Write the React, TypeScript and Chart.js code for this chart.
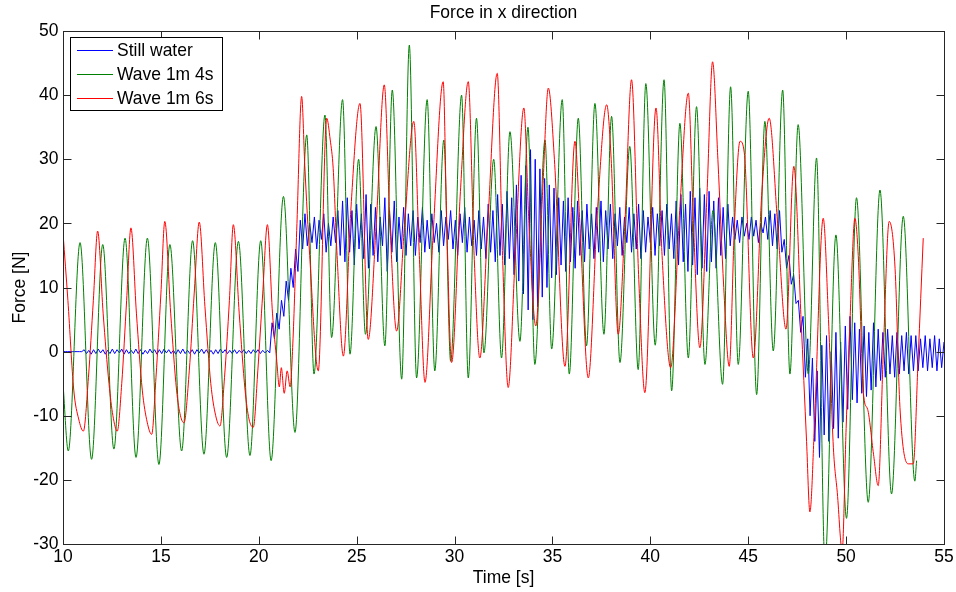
import React, { useEffect, useRef } from "react";
import { Chart, registerables } from "chart.js";

Chart.register(...registerables);

// ---------- text & ticks ----------
const TITLE = "Force in x direction";
const X_LABEL = "Time [s]";
const Y_LABEL = "Force [N]";
const SERIES_NAMES = ["Still water", "Wave 1m 4s", "Wave 1m 6s"];
const SERIES_COLORS = ["#0000ff", "#008000", "#ff0000"];
const X_TICKS = [10, 15, 20, 25, 30, 35, 40, 45, 50, 55];
const Y_TICKS = [-30, -20, -10, 0, 10, 20, 30, 40, 50];
const X_MIN = 10;
const X_MAX = 55;
const Y_MIN = -30;
const Y_MAX = 50;

// ---------- Still water (sampled every STILL_DT seconds from STILL_T0) ----------
const STILL_T0 = 10;
const STILL_DT = 0.12;
const stillWater = [
  0, 0, 0, 0, 0, 0, 0, 0, 0,
  0.3, -0.3, 0.2, -0.4, 0.3, -0.3, 0.4, -0.2, 0.3, -0.4,
  0.2, -0.3, 0.4, -0.3, 0.3, -0.2, 0.4, -0.4, 0.3, -0.3,
  0.2, -0.3, 0.4, -0.3, 0.3, -0.4, 0.2, -0.3, 0.4, -0.2,
  0.3, -0.4, 0.3, -0.3, 0.4, -0.2, 0.3, -0.3, 0.2, -0.4,
  0.3, -0.3, 0.4, -0.3, 0.2, -0.3, 0.3, -0.4, 0.3, -0.2,
  0.4, -0.3, 0.3, -0.3, 0.2, -0.4, 0.3, -0.3, 0.4, -0.2,
  0.3, -0.3, 0.2, -0.3, 0.3, -0.3, 0.2, -0.2, 0.3, -0.3,
  0.2, -0.3, 0.3, -0.2, 0.3, -0.3, 0.2, -0.2, 0.2, -0.2,
  4.5, 2.0, 6.0, 3.5, 8.0, 5.5, 11.0, 8.0, 13.0, 10.0,
  16.0, 12.5, 20.5, 16.0, 21.5, 16.5, 20.0, 17.0, 21.0, 16.0,
  20.5, 17.5, 21.5, 15.5, 20.0, 16.5, 21.0, 17.0, 22.0, 15.0,
  23.5, 14.0, 24.0, 15.5, 22.0, 13.5, 23.0, 16.0, 21.5, 14.5,
  24.5, 13.0, 23.0, 15.0, 22.5, 14.0, 21.0, 16.5, 24.0, 12.5,
  22.0, 15.5, 23.5, 14.0, 21.0, 16.0, 22.5, 15.0, 21.5, 16.5,
  22.0, 15.0, 21.0, 17.0, 22.5, 15.5, 20.5, 16.0, 21.5, 17.0,
  20.0, 15.5, 22.0, 16.5, 21.0, 17.5, 22.0, 16.0, 20.5, 15.0,
  21.5, 17.0, 22.5, 15.5, 21.0, 16.5, 20.5, 15.0, 22.0, 16.0,
  21.0, 14.5, 23.0, 15.5, 22.0, 14.0, 24.5, 15.0, 23.0, 13.5,
  25.0, 14.5, 24.0, 12.0, 26.0, 11.0, 27.5, 9.0, 29.0, 6.5,
  31.5, 5.0, 30.0, 7.0, 28.5, 8.5, 27.0, 10.0, 26.0, 11.5,
  25.5, 12.0, 24.0, 13.5, 23.5, 12.5, 24.0, 14.0, 22.5, 13.0,
  23.5, 15.0, 22.0, 14.0, 23.0, 16.0, 21.5, 14.5, 22.5, 15.5,
  23.5, 14.0, 22.0, 16.0, 23.0, 14.5, 21.5, 16.5, 22.5, 15.0,
  21.0, 17.0, 22.5, 15.5, 21.5, 16.0, 23.0, 14.5, 22.0, 15.5,
  21.0, 17.0, 22.5, 15.0, 21.5, 16.5, 22.0, 15.0, 23.0, 16.0,
  21.5, 14.5, 23.5, 13.5, 24.5, 14.0, 23.0, 12.5, 25.0, 13.5,
  24.0, 12.0, 25.5, 13.0, 24.5, 12.5, 25.0, 14.0, 23.5, 13.0,
  24.0, 15.0, 22.5, 14.5, 23.0, 16.5, 21.0, 17.5, 20.5, 17.0,
  21.0, 18.0, 20.0, 17.5, 21.0, 18.0, 20.5, 17.0, 20.0, 18.5,
  21.0, 17.5, 22.0, 16.5, 21.5, 16.0, 22.0, 15.5, 17.5, 13.0,
  15.0, 10.5, 12.0, 7.5, 8.0, 3.0, 5.5, -4.0, 2.0, -10.0,
  -1.0, -14.0, -3.0, -16.5, 1.0, -13.0, 2.5, -14.0, 0.0, -12.0,
  3.0, -13.5, 1.5, -11.0, 4.0, -9.0, 5.5, -7.5, 4.5, -8.0,
  3.5, -6.5, 4.0, -7.0, 3.0, -6.0, 4.5, -5.5, 3.5, -4.5,
  3.0, -4.0, 3.5, -3.5, 2.5, -4.0, 3.0, -3.5, 2.5, -3.0,
  3.0, -3.5, 2.5, -3.0, 2.5, -3.0, 2.0, -2.5, 2.5, -3.0,
  2.0, -2.5, 2.5, -3.0, 2.0, -2.5, 1.5,
];

// ---------- Wave 1m 4s (extrema) ----------
const wave4Time = [
  10.0, 10.27, 10.87, 11.46, 12.03, 12.6, 13.17, 13.73, 14.31, 14.9,
  15.46, 16.06, 16.62, 17.2, 17.78, 18.36, 18.96, 19.55, 20.1, 20.63,
  21.26, 21.85, 22.45, 22.82, 23.38, 23.72, 24.28, 24.66, 25.1, 25.45,
  25.99, 26.44, 26.82, 27.3, 27.69, 28.06, 28.6, 28.99, 29.45, 29.8,
  30.36, 30.7, 31.12, 31.5, 32.0, 32.4, 32.83, 33.34, 33.75, 34.1,
  34.62, 34.96, 35.5, 35.86, 36.32, 36.74, 37.17, 37.63, 38.02, 38.45,
  38.95, 39.38, 39.77, 40.25, 40.7, 41.09, 41.51, 41.94, 42.36, 42.79,
  43.2, 43.69, 44.1, 44.49, 45.0, 45.43, 45.85, 46.28, 46.76, 47.13,
  47.55, 48.07, 48.49, 48.92, 49.48, 50.02, 50.53, 51.13, 51.73, 52.32,
  52.92, 53.51, 53.6,
];
const wave4Force = [
  -5, -15.5, 17.0, -16.8, 16.7, -15.2, 17.7, -16.5, 17.7, -17.6,
  16.7, -15.5, 17.3, -16.0, 17.0, -16.5, 17.2, -16.2, 17.3, -17.0,
  24.2, -12.6, 33.8, -3.5, 36.9, 2.2, 39.3, -0.4, 30, 2.7,
  35.1, 0.9, 40.8, -4.3, 47.8, -4.1, 39.3, -3.0, 33, -1.5,
  40, -4.1, 36.4, -0.2, 30, -1, 34.3, 1.6, 35, -2.0,
  33.0, 0.4, 39.3, -3.5, 36.4, 0.9, 38.7, 2.7, 36.7, -1.7,
  32, -2.8, 41.8, 1, 42.4, -6.1, 35.6, -1.0, 38.2, -2.0,
  22, -5.1, 41.3, -2.0, 40.6, -6.7, 35.9, 0.1, 40.8, -3.5,
  35.4, -3.5, 30.2, -33, 18.2, -26, 24, -23.5, 25.2, -22.2,
  21.1, -20.2, -17,
];

// ---------- Wave 1m 6s ----------
const wave6Time = [
  10.0, 10.25, 10.55, 10.8, 11.04, 11.3, 11.55, 11.77, 12.05, 12.35,
  12.55, 12.77, 13.0, 13.25, 13.47, 13.75, 14.05, 14.3, 14.53, 14.75,
  15.0, 15.2, 15.5, 15.8, 16.0, 16.18, 16.45, 16.7, 16.96, 17.25,
  17.55, 17.8, 18.02, 18.25, 18.5, 18.7, 19.0, 19.3, 19.5, 19.72,
  19.95, 20.2, 20.44, 20.7, 20.92, 21.05, 21.15, 21.3, 21.45, 21.6,
  21.75, 21.95, 22.19, 22.35, 22.6, 23.04, 23.47, 23.65, 23.8, 24.0,
  24.32, 24.7, 25.17, 25.59, 26.0, 26.41, 26.7, 27.04, 27.45, 27.92,
  28.2, 28.49, 28.9, 29.42, 29.6, 29.85, 30.3, 30.7, 31.0, 31.29,
  31.7, 32.18, 32.45, 32.74, 33.1, 33.54, 33.8, 34.15, 34.5, 34.79,
  35.1, 35.64, 36.15, 36.4, 36.83, 37.3, 37.77, 38.0, 38.36, 38.7,
  39.04, 39.4, 39.72, 40.29, 40.6, 41.04, 41.5, 41.94, 42.2, 42.53,
  42.9, 43.18, 43.45, 43.75, 44.03, 44.3, 44.58, 44.8, 45.26, 45.7,
  46.07, 46.5, 46.93, 47.33, 47.7, 47.98, 48.15, 48.4, 48.83, 49.1,
  49.35, 49.55, 49.8, 50.0, 50.2, 50.45, 50.62, 50.9, 51.1, 51.4,
  51.64, 51.9, 52.2, 52.5, 52.75, 53.17, 53.43, 53.68, 53.94,
];
const wave6Force = [
  18.5, 8, -6, -10.5, -12.4, -4, 8, 18.8, 6, -5,
  -10, -12.4, -5, 8, 19.3, 6, -6, -11, -12.9, -4,
  9, 20.3, 6, -6, -10, -11.1, -3, 9, 20.2, 7,
  -5, -10, -11.6, -4, 8, 19.8, 6, -6, -10.5, -11.8,
  -3, 9, 19.8, 6, -1.5, -5.5, -2.5, -6.5, -3, -5.5,
  2, 20, 39.8, 29, 15, -3.0, 36.4, 33, 28.6, 15,
  -0.7, 22, 38.7, 1.9, 20, 41.6, 20, 3.2, 20, 35.9,
  15, -4.8, 18, 42.1, 20, -1.7, 25, 42.1, 15, -1.0,
  20, 43.4, 15, -5.6, 15, 38.0, 20, 4, 25, 41.1,
  30, -2.3, 32.8, 20, -4.1, 22, 38.5, 30, 2.7, 20,
  42.4, 12, -6.4, 38.0, 15, -2.5, 22, 40.3, 20, 0.6,
  25, 45.2, 30, 10, -2.3, 20, 32.8, 31, -1.0, 25,
  36.4, 20, 3.5, 28.9, 5, -14, -25, -10, 20.8, 5,
  -15, -22, -31, -12, 5, 20.8, 15, -7, -9, -16,
  -20.9, 0, 20.3, 13, -8.7, -17.5, -17.5, -1, 17.7,
];

// ---------- drawing helpers ----------
const FONT = "'Liberation Sans', Arial, Helvetica, sans-serif";
const SX = 0.92;
const TICK_LEN = 8;

function drawText(
  ctx: CanvasRenderingContext2D,
  s: string,
  x: number,
  y: number,
  size: number,
  align: CanvasTextAlign,
  rot = 0
) {
  ctx.save();
  ctx.translate(x, y);
  if (rot) ctx.rotate(rot);
  ctx.scale(SX, 1);
  ctx.font = `${size}px ${FONT}`;
  ctx.textAlign = align;
  ctx.textBaseline = "middle";
  ctx.fillStyle = "#000";
  ctx.fillText(s, 0, 0);
  ctx.restore();
}

const matlabFrame = {
  id: "matlabFrame",
  afterDraw(chart: any) {
    const { ctx, chartArea: a, scales } = chart;
    const xs = scales.x;
    const ys = scales.y;
    ctx.save();
    ctx.strokeStyle = "#262626";
    ctx.lineWidth = 1;
    const L = Math.round(a.left) + 0.5;
    const R = Math.round(a.right) + 0.5;
    const T = Math.round(a.top) + 0.5;
    const B = Math.round(a.bottom) + 0.5;
    ctx.strokeRect(L, T, R - L, B - T);
    ctx.beginPath();
    for (const v of X_TICKS) {
      const px = Math.round(xs.getPixelForValue(v)) + 0.5;
      ctx.moveTo(px, B);
      ctx.lineTo(px, B - TICK_LEN);
      ctx.moveTo(px, T);
      ctx.lineTo(px, T + TICK_LEN);
    }
    for (const v of Y_TICKS) {
      const py = Math.round(ys.getPixelForValue(v)) + 0.5;
      ctx.moveTo(L, py);
      ctx.lineTo(L + TICK_LEN, py);
      ctx.moveTo(R, py);
      ctx.lineTo(R - TICK_LEN, py);
    }
    ctx.stroke();

    // tick labels
    for (const v of X_TICKS) {
      drawText(ctx, String(v), xs.getPixelForValue(v), B + 12, 19, "center");
    }
    for (const v of Y_TICKS) {
      drawText(ctx, String(v), L - 5, ys.getPixelForValue(v), 19, "right");
    }
    const cx = (a.left + a.right) / 2;
    drawText(ctx, TITLE, cx, 13, 19, "center");
    drawText(ctx, X_LABEL, cx, 578, 19, "center");
    drawText(ctx, Y_LABEL, 20, (a.top + a.bottom) / 2, 19, "center", -Math.PI / 2);

    // legend
    const lx = 70.5, ly = 37.5, lw = 152, lh = 73;
    ctx.fillStyle = "#fff";
    ctx.fillRect(lx, ly, lw, lh);
    ctx.strokeStyle = "#000";
    ctx.strokeRect(lx, ly, lw, lh);
    const rows = [50, 74, 98];
    SERIES_NAMES.forEach((name, i) => {
      ctx.strokeStyle = SERIES_COLORS[i];
      ctx.beginPath();
      ctx.moveTo(77, rows[i] + 0.5);
      ctx.lineTo(113, rows[i] + 0.5);
      ctx.stroke();
      drawText(ctx, name, 117, rows[i] + 1, 19, "left");
    });
    ctx.restore();
  },
};

function pts(t: number[], v: number[]) {
  return v.map((y, i) => ({ x: t[i], y }));
}

export default function App() {
  const ref = useRef<HTMLCanvasElement | null>(null);
  useEffect(() => {
    document.body.style.margin = "0";
    const canvas = ref.current;
    if (!canvas) return;
    const stillPts = stillWater.map((y, i) => ({ x: STILL_T0 + i * STILL_DT, y }));
    const chart = new Chart(canvas, {
      type: "line",
      data: {
        datasets: [
          {
            label: SERIES_NAMES[0],
            data: stillPts,
            borderColor: SERIES_COLORS[0],
            borderWidth: 1,
            pointRadius: 0,
            tension: 0,
            order: 2,
          },
          {
            label: SERIES_NAMES[1],
            data: pts(wave4Time, wave4Force),
            borderColor: SERIES_COLORS[1],
            borderWidth: 1,
            pointRadius: 0,
            cubicInterpolationMode: "monotone",
            order: 1,
          },
          {
            label: SERIES_NAMES[2],
            data: pts(wave6Time, wave6Force),
            borderColor: SERIES_COLORS[2],
            borderWidth: 1,
            pointRadius: 0,
            cubicInterpolationMode: "monotone",
            order: 0,
          },
        ],
      },
      options: {
        animation: false,
        responsive: false,
        events: [],
        layout: { padding: { left: 63, right: 12, top: 31, bottom: 48 } },
        scales: {
          x: { type: "linear", min: X_MIN, max: X_MAX, display: false },
          y: { type: "linear", min: Y_MIN, max: Y_MAX, display: false },
        },
        plugins: { legend: { display: false }, tooltip: { enabled: false }, title: { display: false } },
      },
      plugins: [matlabFrame],
    });
    return () => chart.destroy();
  }, []);
  return (
    <div style={{ width: 956, height: 592 }}>
      <canvas ref={ref} width={956} height={592} style={{ display: "block" }} />
    </div>
  );
}
